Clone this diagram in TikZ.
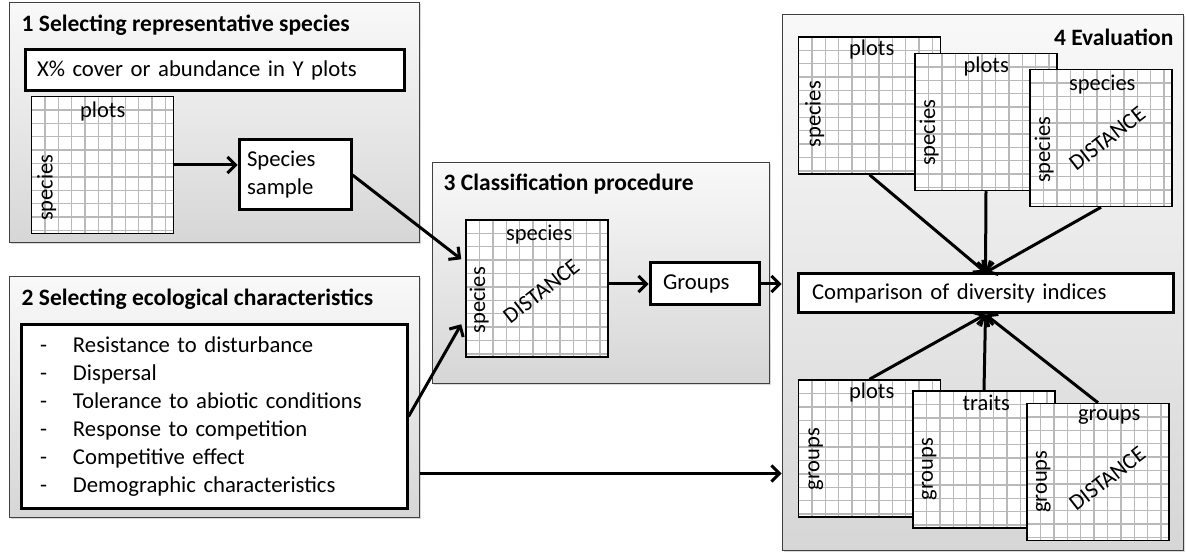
\documentclass[tikz,border=0pt]{standalone}
\usepackage{fontspec}
\setmainfont{Carlito}
\usetikzlibrary{calc}
\usetikzlibrary{scopes}
\usetikzlibrary{arrows.meta,shadows}

\begin{document}
\begin{tikzpicture}[x=1pt,y=-1pt,
    panel/.style={draw=black!75,line width=1pt,top color=gray!5,bottom color=gray!32,inner sep=0pt,
        drop shadow={shadow xshift=1.5pt,shadow yshift=-1.5pt,opacity=0.3}},
    title/.style={font=\fontsize{23.5}{27}\selectfont\bfseries,inner sep=0pt},
    box/.style={draw=black,line width=3pt,fill=white,align=left,font=\fontsize{22.7}{28}\selectfont},
    mat/.style={draw=black,line width=1.5pt,fill=white,minimum width=142pt,minimum height=137pt,inner sep=0pt,
        path picture={
            \foreach \i in {1,...,10} {
                \draw[cell] ($(path picture bounding box.north west)+(\i*13.4pt,0pt)$)
                    -- ($(path picture bounding box.south west)+(\i*13.4pt,0pt)$);
                \draw[cell] ($(path picture bounding box.north west)+(0pt,-\i*13.4pt)$)
                    -- ($(path picture bounding box.north east)+(0pt,-\i*13.4pt)$);
            }
        }},
    cell/.style={draw=gray!55,line width=1.4pt},
    lbl/.style={font=\fontsize{22.5}{27}\selectfont,inner sep=0pt},
    dist/.style={lbl,rotate=38},
    flow/.style={line width=3pt,-{Straight Barb[length=8pt,width=16pt]}},
]
    \useasboundingbox (0,0) rectangle (1186,553);

    % Panels
    \node[panel,minimum width=410pt,minimum height=240pt] (p1) at (214,123) {};
    \node[panel,minimum width=410pt,minimum height=240pt] (p2) at (214,397) {};
    \node[panel,minimum width=337pt,minimum height=220pt] (p3) at (600.5,273) {};
    \node[panel,minimum width=401pt,minimum height=535pt] (p4) at (982.5,282.5) {};
    \node[title,anchor=west] (t1) at ($(p1.north west)+(13,23)$) {1 Selecting representative species};
    \node[title,anchor=west] (t2) at ($(p2.north west)+(13,23)$) {2 Selecting ecological characteristics};
    \node[title,anchor=west] (t3) at ($(p3.north west)+(12,22)$) {3 Classification procedure};
    \node[title,anchor=east] (t4) at ($(p4.north east)+(-10,23)$) {4 Evaluation};

    % 1 Selecting representative species
    \node[box,inner xsep=12pt,text width=355pt,minimum height=41pt] (crit) at (214.5,70.5)
        {X\% cover or abundance in Y plots};
    \node[mat] (g1) at (102.5,165) {};
    \node[lbl] at ($(g1.north west)+(72,16)$) {plots};
    \node[lbl,rotate=90] at ($(g1.north west)+(16,92)$) {species};
    \node[box,inner xsep=8pt,text width=96pt,minimum height=70pt] (ss) at (295,175) {Species\\sample};

    % 2 Selecting ecological characteristics
    \node[box,inner xsep=19pt,text width=348pt,minimum height=183pt] (list) at (214,416.5) {%
        \makebox[33pt][l]{-}Resistance to disturbance\\
        \makebox[33pt][l]{-}Dispersal\\
        \makebox[33pt][l]{-}Tolerance to abiotic conditions\\
        \makebox[33pt][l]{-}Response to competition\\
        \makebox[33pt][l]{-}Competitive effect\\
        \makebox[33pt][l]{-}Demographic characteristics};

    % 3 Classification procedure
    \node[mat] (g3) at (537,288.5) {};
    \node[lbl] at ($(g3.north west)+(74,15)$) {species};
    \node[lbl,rotate=90] at ($(g3.north west)+(14,81)$) {species};
    \node[dist] at ($(g3.north west)+(76,72)$) {DISTANCE};
    \node[box,inner xsep=13pt,text width=83pt,minimum height=42pt] (grp) at (704.5,284) {Groups};

    % 4 Evaluation
    \node[mat] (g4a) at (869.5,105.5) {};
    \node[lbl] at ($(g4a.north west)+(74,13)$) {plots};
    \node[lbl,rotate=90] at ($(g4a.north west)+(17,78)$) {species};
    \node[mat] (g4b) at (986,122) {};
    \node[lbl] at ($(g4b.north west)+(72,14)$) {plots};
    \node[lbl,rotate=90] at ($(g4b.north west)+(15,80)$) {species};
    \node[mat] (g4c) at (1101,138) {};
    \node[lbl] at ($(g4c.north west)+(73,16)$) {species};
    \node[lbl,rotate=90] at ($(g4c.north west)+(15,81)$) {species};
    \node[dist] at ($(g4c.north west)+(78,70)$) {DISTANCE};

    \node[box,inner xsep=14pt,text width=347pt,minimum height=39pt] (cmp) at (985.5,293.5)
        {Comparison of diversity indices};

    \node[mat] (g4d) at (869.5,448.5) {};
    \node[lbl] at ($(g4d.north west)+(74,13)$) {plots};
    \node[lbl,rotate=90] at ($(g4d.north west)+(18,80)$) {groups};
    \node[mat] (g4e) at (984,459.5) {};
    \node[lbl] at ($(g4e.north west)+(74,13)$) {traits};
    \node[lbl,rotate=90] at ($(g4e.north west)+(17,79)$) {groups};
    \node[mat] (g4f) at (1098,472) {};
    \node[lbl] at ($(g4f.north west)+(83,14)$) {groups};
    \node[lbl,rotate=90] at ($(g4f.north west)+(17,79)$) {groups};
    \node[dist] at ($(g4f.north west)+(81,76)$) {DISTANCE};

    % Connectors
    \coordinate (in1) at ($(g3.north west)+(-4,40)$);
    \coordinate (in2) at ($(g3.north west)+(-4,105)$);
    \coordinate (out2) at ($(p2.south east)+(0,-44)$);
    {[flow]
        \draw (g1) -- (g1 -| ss.west);
        \draw (ss.east) -- (in1);
        \draw (list.east) -- (in2);
        \draw (g3.east |- grp.west) -- (grp.west);
        \draw (grp.east) -- (grp.east -| p4.west);
        \draw (out2) -- (out2 -| p4.west);
        \draw (g4a.south) -- (cmp.north);
        \draw (g4b.south) -- (cmp.north);
        \draw (g4c.south) -- (cmp.north);
        \draw (g4d.north) -- (cmp.south);
        \draw (g4e.north) -- (cmp.south);
        \draw (g4f.north) -- (cmp.south);
    }
\end{tikzpicture}
\end{document}
